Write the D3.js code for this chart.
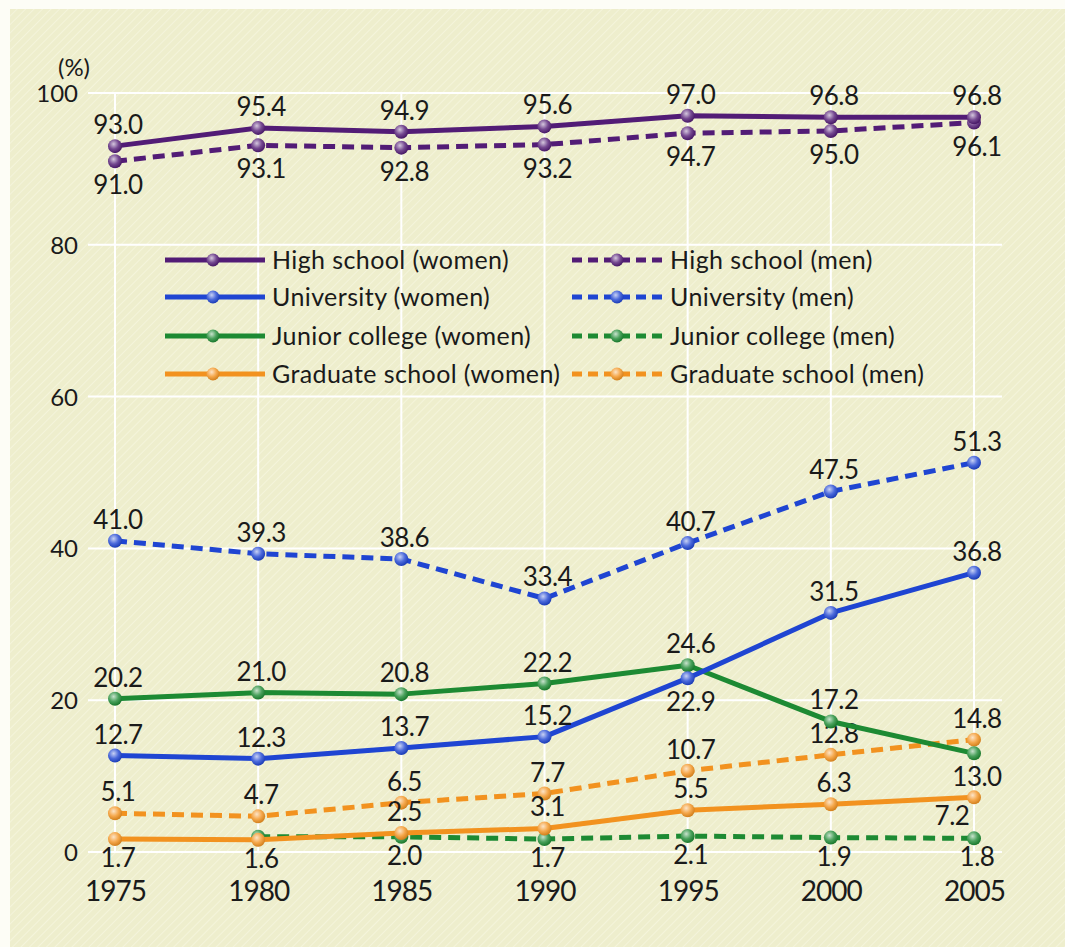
<!DOCTYPE html>
<html><head><meta charset="utf-8">
<script src="https://cdn.jsdelivr.net/npm/d3@7"></script>
<style>body{margin:0;background:#fff}svg{display:block}</style></head>
<body><svg id="chart" width="1065" height="947"></svg>
<script>
// ---- data ----
const years = [1975, 1980, 1985, 1990, 1995, 2000, 2005];
const hsWomen   = [93.0, 95.4, 94.9, 95.6, 97.0, 96.8, 96.8];
const hsMen     = [91.0, 93.1, 92.8, 93.2, 94.7, 95.0, 96.1];
const univWomen = [12.7, 12.3, 13.7, 15.2, 22.9, 31.5, 36.8];
const univMen   = [41.0, 39.3, 38.6, 33.4, 40.7, 47.5, 51.3];
const jcWomen   = [20.2, 21.0, 20.8, 22.2, 24.6, 17.2, 13.0];
const jcMen     = [null, 2.0, 2.0, 1.7, 2.1, 1.9, 1.8];
const gradWomen = [1.7, 1.6, 2.5, 3.1, 5.5, 6.3, 7.2];
const gradMen   = [5.1, 4.7, 6.5, 7.7, 10.7, 12.8, 14.8];
const yTicks = [0, 20, 40, 60, 80, 100];
const legendLabels = ["High school (women)", "High school (men)", "University (women)", "University (men)",
  "Junior college (women)", "Junior college (men)", "Graduate school (women)", "Graduate school (men)"];
const unitLabel = "(%)";

// ---- configuration (styles / label placement) ----
const colors = {hs: "#521c76", univ: "#1f45d2", jc: "#1d8a33", grad: "#f2921f"};
const series = [
  {key: "jcMen", values: jcMen, color: colors.jc, dashed: true, place: "nnbbbbb"},
  {key: "gradMen", values: gradMen, color: colors.grad, dashed: true, place: "aaaaaaa"},
  {key: "gradWomen", values: gradWomen, color: colors.grad, dashed: false, place: "bbaaaaB"},
  {key: "jcWomen", values: jcWomen, color: colors.jc, dashed: false, place: "aaaaaab"},
  {key: "univMen", values: univMen, color: colors.univ, dashed: true, place: "aaaaaaa"},
  {key: "univWomen", values: univWomen, color: colors.univ, dashed: false, place: "aaaabaa"},
  {key: "hsMen", values: hsMen, color: colors.hs, dashed: true, place: "bbbbbbb"},
  {key: "hsWomen", values: hsWomen, color: colors.hs, dashed: false, place: "aaaaaaa"}
];
const legendOrder = [
  [colors.hs, false], [colors.hs, true], [colors.univ, false], [colors.univ, true],
  [colors.jc, false], [colors.jc, true], [colors.grad, false], [colors.grad, true]
];

const svg = d3.select("#chart");
const font = "Lato, 'Open Sans', sans-serif";

// background panel
const defs = svg.append("defs");
const pat = defs.append("pattern").attr("id", "hatch").attr("width", 6).attr("height", 6)
  .attr("patternUnits", "userSpaceOnUse").attr("patternTransform", "rotate(45)");
pat.append("rect").attr("width", 6).attr("height", 6).attr("fill", "#eeeecd");
pat.append("line").attr("x1", 0).attr("y1", 0).attr("x2", 0).attr("y2", 6)
  .attr("stroke", "#f6f6e0").attr("stroke-width", 1.5);
svg.append("rect").attr("x", 0).attr("y", 0).attr("width", 1065).attr("height", 947).attr("fill", "#fdfdf6");
svg.append("rect").attr("x", 10).attr("y", 9).attr("width", 1055).attr("height", 938).attr("fill", "url(#hatch)");

// marker gradients
Object.entries(colors).forEach(([k, c]) => {
  const g = defs.append("radialGradient").attr("id", "g-" + k).attr("cx", "40%").attr("cy", "35%").attr("r", "65%");
  g.append("stop").attr("offset", "0%").attr("stop-color", d3.interpolateRgb(c, "#fff")(0.75));
  g.append("stop").attr("offset", "55%").attr("stop-color", d3.interpolateRgb(c, "#fff")(0.2));
  g.append("stop").attr("offset", "100%").attr("stop-color", d3.rgb(c).darker(0.4));
});
const gradId = c => "url(#g-" + Object.keys(colors).find(k => colors[k] === c) + ")";

// scales
const x = d3.scaleLinear().domain([1975, 2005]).range([115, 974]);
const y = d3.scaleLinear().domain([0, 100]).range([852, 93]);

// gridlines
const grid = svg.append("g").attr("stroke", "#ffffff").attr("stroke-width", 2);
grid.selectAll("line.h").data(yTicks).join("line").attr("class", "h")
  .attr("x1", 88).attr("x2", 1002).attr("y1", d => y(d)).attr("y2", d => y(d));
grid.selectAll("line.v").data(years).join("line").attr("class", "v")
  .attr("x1", d => x(d)).attr("x2", d => x(d)).attr("y1", y(100)).attr("y2", y(0));

// y axis
const yAxis = d3.axisLeft(y).tickValues(yTicks).tickSize(0).tickPadding(0);
const ya = svg.append("g").attr("transform", "translate(78,0)").call(yAxis);
ya.select(".domain").remove();
ya.selectAll("text").attr("font-family", font).attr("font-size", 24).attr("fill", "#1a1a1a").attr("dy", "0.35em");

// x axis
const xAxis = d3.axisBottom(x).tickValues(years).tickFormat(d3.format("d")).tickSize(0).tickPadding(0);
const xa = svg.append("g").attr("transform", "translate(0,901)").call(xAxis);
xa.select(".domain").remove();
xa.selectAll("text").attr("font-family", font).attr("font-size", 28).attr("fill", "#1a1a1a")
  .attr("dy", 0).attr("y", 0).attr("letter-spacing", "-1px");

// unit label
svg.append("text").attr("x", 74).attr("y", 76).attr("text-anchor", "middle")
  .attr("font-family", font).attr("font-size", 24).attr("fill", "#1a1a1a").text(unitLabel);

// legend
const leg = svg.append("g");
const legRows = [260, 297, 336, 374];
legendOrder.forEach(([c, dashed], i) => {
  const row = legRows[Math.floor(i / 2)];
  const col = i % 2;
  const x0 = col === 0 ? 165 : 572, x1 = col === 0 ? 265 : 662, mx = col === 0 ? 213 : 617;
  leg.append("line").attr("x1", x0).attr("x2", x1).attr("y1", row).attr("y2", row)
    .attr("stroke", c).attr("stroke-width", 5).attr("stroke-dasharray", dashed ? "10,6" : null);
  leg.append("circle").attr("cx", mx).attr("cy", row).attr("r", 6.5).attr("fill", gradId(c));
  leg.append("text").attr("x", col === 0 ? 272 : 670).attr("y", row).attr("dy", "0.35em")
    .attr("font-family", font).attr("font-size", 25).attr("letter-spacing", "0.4px")
    .attr("fill", "#1a1a1a").text(legendLabels[i]);
});

// lines + markers + labels
const line = d3.line().defined(d => d.v != null).x(d => x(d.year)).y(d => y(d.v));
series.forEach(s => {
  const pts = years.map((yr, i) => ({year: yr, v: s.values[i], p: s.place[i]}));
  svg.append("path").datum(pts).attr("d", line).attr("fill", "none").attr("stroke", s.color)
    .attr("stroke-width", 5).attr("stroke-linejoin", "round")
    .attr("stroke-dasharray", s.dashed ? "12,7" : null);
  const valid = pts.filter(d => d.v != null);
  svg.append("g").selectAll("circle").data(valid).join("circle")
    .attr("cx", d => x(d.year)).attr("cy", d => y(d.v)).attr("r", 7).attr("fill", gradId(s.color));
  svg.append("g").selectAll("text").data(valid.filter(d => d.p !== "n")).join("text")
    .attr("x", d => x(d.year) + (d.p === "B" ? -22 : 3))
    .attr("y", d => d.p === "a" ? y(d.v) - 12 : y(d.v) + (d.p === "B" ? 28 : (d.v < 5 ? 28 : 33)))
    .attr("text-anchor", "middle").attr("font-family", font).attr("font-size", 26)
    .attr("fill", "#1a1a1a").attr("letter-spacing", "-0.5px")
    .text(d => d3.format(".1f")(d.v));
});
</script></body></html>
